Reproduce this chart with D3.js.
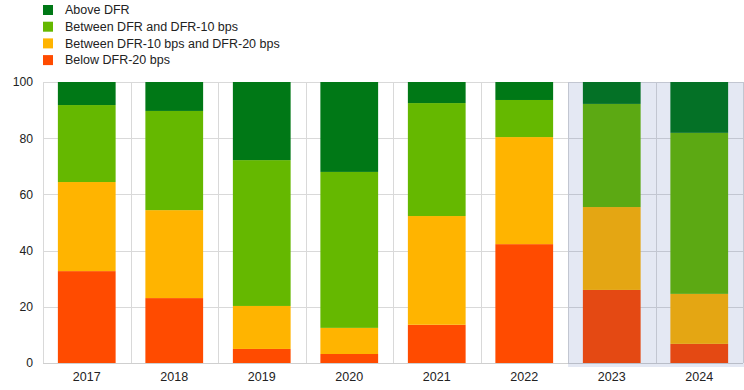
<!DOCTYPE html>
<html><head><meta charset="utf-8">
<script src="https://cdn.jsdelivr.net/npm/d3@7"></script>
<style>body{margin:0;background:#fff}svg{display:block;font-family:"Liberation Sans",Arial,sans-serif}</style>
</head><body><svg id="c" width="744" height="390"></svg>
<script>
const categories = ["2017","2018","2019","2020","2021","2022","2023","2024"];
const seriesNames = ["Below DFR-20 bps","Between DFR-10 bps and DFR-20 bps","Between DFR and DFR-10 bps","Above DFR"];
const below20 = [32.7, 23.1, 5.0, 3.2, 13.6, 42.3, 26.0, 6.8];
const between10and20 = [31.7, 31.3, 15.3, 9.3, 38.7, 38.1, 29.5, 17.8];
const between0and10 = [27.4, 35.3, 51.9, 55.5, 40.2, 13.2, 36.7, 57.3];
const aboveDFR = [8.2, 10.3, 27.8, 32.0, 7.5, 6.4, 7.8, 18.1];
const yTicks = [0, 20, 40, 60, 80, 100];
const shadedCategories = ["2023","2024"];
const colors = ["#ff4b00","#ffb400","#65b800","#007816"];
const legendOrder = [3,2,1,0];

const svg = d3.select("#c");
const m = {l:43, r:1, t:82, b:27};
const W = 744, H = 390;
const x = d3.scaleBand().domain(categories).range([m.l, W - m.r]).paddingInner(0.34).paddingOuter(0.17);
const y = d3.scaleLinear().domain([0,100]).range([H - m.b, m.t]);

const rows = categories.map((c,i)=>({cat:c, s0:below20[i], s1:between10and20[i], s2:between0and10[i], s3:aboveDFR[i]}));
const stack = d3.stack().keys(["s0","s1","s2","s3"])(rows);

const grid = svg.append("g");
yTicks.forEach(t=>{
  grid.append("line").attr("x1",m.l).attr("x2",W-m.r).attr("y1",Math.round(y(t))+0.5).attr("y2",Math.round(y(t))+0.5)
    .attr("stroke","#d9d9d9").attr("stroke-width",1);
});
const step = x.step();
const bounds = d3.range(categories.length+1).map(i=>m.l + i*step);
bounds.forEach(b=>{
  grid.append("line").attr("x1",Math.round(b)+0.5).attr("x2",Math.round(b)+0.5).attr("y1",y(100)).attr("y2",y(0))
    .attr("stroke","#d9d9d9").attr("stroke-width",1);
});

stack.forEach((layer,k)=>{
  svg.append("g").selectAll("rect").data(layer).join("rect")
    .attr("x",d=>x(d.data.cat)).attr("width",x.bandwidth())
    .attr("y",d=>y(d[1])).attr("height",d=>y(d[0])-y(d[1]))
    .attr("fill",colors[k]);
});

svg.append("line").attr("x1",m.l).attr("x2",W-m.r).attr("y1",Math.round(y(0))+0.5).attr("y2",Math.round(y(0))+0.5).attr("stroke","#cfcfcf");

const ya = svg.append("g").attr("transform",`translate(${m.l-10},0)`)
  .call(d3.axisLeft(y).tickValues(yTicks).tickSize(0).tickPadding(0));
ya.select(".domain").remove();
ya.selectAll("text").attr("font-size",12.2).attr("fill","#222").attr("font-family","Liberation Sans, Arial, sans-serif");

const xa = svg.append("g").attr("transform",`translate(0,${y(0)+9})`)
  .call(d3.axisBottom(x).tickSize(0).tickPadding(0));
xa.select(".domain").remove();
xa.selectAll("text").attr("font-size",12.5).attr("fill","#222").attr("dy","0.71em").attr("font-family","Liberation Sans, Arial, sans-serif");

const sx0 = m.l + categories.indexOf(shadedCategories[0])*step;
svg.append("rect").attr("x",sx0).attr("y",y(100)).attr("width",W - sx0).attr("height",y(0)-y(100)+4)
  .attr("fill","rgb(30,63,155)").attr("fill-opacity",0.12);

const lg = svg.append("g");
legendOrder.forEach((k,i)=>{
  const yy = 10 + i*16.7;
  lg.append("rect").attr("x",43).attr("y",yy-5).attr("width",10).attr("height",10).attr("fill",colors[k]);
  lg.append("text").attr("x",65).attr("y",yy).attr("dy","0.35em").attr("font-size",12.5).attr("fill","#222").text(seriesNames[k]);
});
</script></body></html>
